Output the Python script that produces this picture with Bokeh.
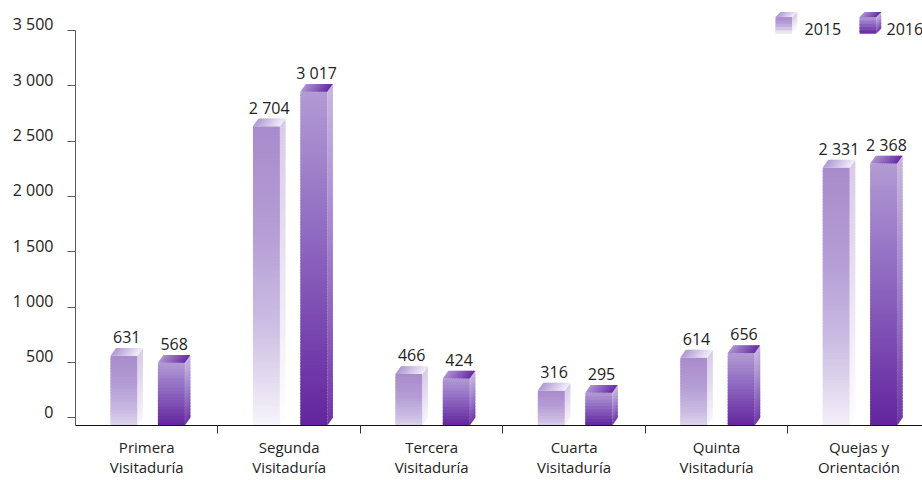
import numpy as np
from bokeh.plotting import figure
from bokeh.models import ColumnDataSource, FixedTicker, Range1d, LinearAxis
from bokeh.core.properties import value
from bokeh.embed import file_html
from bokeh.resources import INLINE

# ---------------- data ----------------
cat_line1 = ["Primera", "Segunda", "Tercera", "Cuarta", "Quinta", "Quejas y"]
cat_line2 = ["Visitaduría", "Visitaduría", "Visitaduría", "Visitaduría", "Visitaduría", "Orientación"]
series_names = ["2015", "2016"]
values_2015 = [631, 2704, 466, 316, 614, 2331]
values_2016 = [568, 3017, 424, 295, 656, 2368]
y_ticks = [0, 500, 1000, 1500, 2000, 2500, 3000, 3500]
y_tick_labels = ["0", "500", "1 000", "1 500", "2 000", "2 500", "3 000", "3 500"]

# ---------------- layout ----------------
W, H = 922, 480
BL, BB = 75, 55
FW, FH = W - BL, H - BB
X0, X1 = 0.0, FW / 142.45
Y0, Y1 = -70.0, 3771.0
UX = (X1 - X0) / FW          # data units per px
UY = (Y1 - Y0) / FH
BAR_W = 0.1895
BAR_OFF = [0.2457, 0.5785]
FONT = "Open Sans"
TXT = "#222222"


def px_to_x(px):   # page px -> data
    return X0 + (px - BL) * UX


def px_to_y(py):
    return Y0 + (FH - py) * UY


def hexc(c):
    return "#%02x%02x%02x" % tuple(int(round(v)) for v in c)


def interp(stops, t):
    t = min(max(t, 0.0), 1.0)
    for (t0, c0), (t1, c1) in zip(stops[:-1], stops[1:]):
        if t <= t1:
            f = 0 if t1 == t0 else (t - t0) / (t1 - t0)
            return [a + (b - a) * f for a, b in zip(c0, c1)]
    return list(stops[-1][1])


def mix_white(c, f):
    return [a + (255 - a) * f for a in c]


STYLE = {
    "2015": dict(
        front=[(0, (168, 139, 203)), (0.35, (181, 157, 213)), (0.65, (203, 188, 227)),
               (0.85, (228, 220, 240)), (1.0, (248, 245, 252))],
        side_mix=0.55, side_mix_bottom=0.8,
        top=[(0, (176, 152, 211)), (1.0, (242, 238, 249))],
        short_fade=True),
    "2016": dict(
        front=[(0, (178, 155, 212)), (0.45, (141, 103, 192)), (1.0, (99, 37, 158))],
        side_mix=0.28, side_mix_bottom=0.08,
        top=[(0, (172, 146, 210)), (1.0, (104, 44, 163))],
        short_fade=False),
}

front = dict(left=[], right=[], top=[], bottom=[], color=[])
polys = dict(xs=[], ys=[], color=[])


def draw_box(l, r, b, t, dx, dy, st):
    h_px = (t - b) / UY
    n = max(5, int(h_px / 3.0))
    scale = 1.0
    if st["short_fade"]:
        scale = 0.75 + 0.25 * min(1.0, h_px / 300.0)
    edges = np.linspace(t, b, n + 1)
    ov = 1.6 * UY
    for k in range(n):
        yt, yb = edges[k], edges[k + 1]
        ybo = max(yb - ov, b) if k < n - 1 else yb
        tt = (k + 0.5) / n
        c = interp(st["front"], tt * scale)
        front["left"].append(l); front["right"].append(r)
        front["top"].append(yt); front["bottom"].append(ybo)
        front["color"].append(hexc(c))
        sm = st["side_mix"] + (st["side_mix_bottom"] - st["side_mix"]) * tt * scale
        polys["xs"].append([r, r + dx, r + dx, r])
        polys["ys"].append([ybo, ybo + dy, yt + dy, yt])
        polys["color"].append(hexc(mix_white(c, sm)))
    m = 12
    xe = np.linspace(l, r, m + 1)
    ox = 1.2 * UX
    for k in range(m):
        xa, xb = xe[k], min(xe[k + 1] + ox, r) if k < m - 1 else xe[k + 1]
        c = interp(st["top"], (k + 0.5) / m)
        polys["xs"].append([xa, xb, xb + dx, xa + dx])
        polys["ys"].append([t, t, t + dy, t + dy])
        polys["color"].append(hexc(c))


BAR_DX = 5.5 * UX
BAR_DY = -Y0
lab = dict(x=[], y=[], text=[])
for s_idx, (name, vals) in enumerate(zip(series_names, [values_2015, values_2016])):
    for i, v in enumerate(vals):
        l = i + BAR_OFF[s_idx]
        r = l + BAR_W
        draw_box(l, r, Y0, v + Y0, BAR_DX, BAR_DY, STYLE[name])
        lab["x"].append((l + r) / 2 + BAR_DX / 2)
        lab["y"].append(v)
        lab["text"].append(f"{v:,}".replace(",", " "))

# legend cubes (pixel geometry converted to data)
leg_cube_left_px = [775, 859]
leg_text_px = [804, 886]
CUBE = 16.7
CUBE_D = 5.0
leg_txt = dict(x=[], y=[], text=[])
for k, name in enumerate(series_names):
    l = px_to_x(leg_cube_left_px[k])
    r = px_to_x(leg_cube_left_px[k] + CUBE)
    b = px_to_y(33.3)
    t = px_to_y(33.3 - CUBE)
    st = dict(STYLE[name]); st["short_fade"] = False
    draw_box(l, r, b, t, CUBE_D * UX, CUBE_D * UY, st)
    leg_txt["x"].append(px_to_x(leg_text_px[k]))
    leg_txt["y"].append(px_to_y(28.5))
    leg_txt["text"].append(name)

# ---------------- figure ----------------
p = figure(width=W, height=H, output_backend="svg", toolbar_location=None,
           x_range=Range1d(X0, X1), y_range=Range1d(Y0, Y1),
           min_border_left=BL, min_border_right=0, min_border_top=0,
           min_border_bottom=BB, background_fill_color="white",
           border_fill_color="white", outline_line_color=None)
p.xgrid.visible = False
p.ygrid.visible = False

p.quad(left="left", right="right", top="top", bottom="bottom",
       fill_color="color", line_color=None,
       source=ColumnDataSource(front))
p.patches(xs="xs", ys="ys", fill_color="color", line_color=None,
          source=ColumnDataSource(polys))

p.text(x="x", y="y", text="text", source=ColumnDataSource(lab),
       text_align="center", text_baseline="alphabetic", y_offset=-11,
       text_font=value(FONT), text_font_size="16px", text_color=TXT)
p.text(x="x", y="y", text="text", source=ColumnDataSource(leg_txt),
       text_align="left", text_baseline="alphabetic",
       text_font=value(FONT), text_font_size="16px", text_color=TXT)

# y axis: line + ticks
ya = p.yaxis[0]
ya.ticker = FixedTicker(ticks=y_ticks)
ya.bounds = (Y0, y_ticks[-1])
ya.major_label_overrides = {t: "" for t in y_ticks}
ya.major_label_standoff = 0
ya.major_tick_out = 8
ya.major_tick_in = 0
ya.minor_tick_out = 0
ya.minor_tick_in = 0
ya.axis_line_color = "#5a5a5a"
ya.major_tick_line_color = "#5a5a5a"

# y tick labels on a shifted range so that their baseline sits on the tick
SHIFT = 6.0 * UY
p.extra_y_ranges = {"lab": Range1d(Y0 - SHIFT, Y1 - SHIFT)}
yl = LinearAxis(y_range_name="lab", ticker=FixedTicker(ticks=y_ticks),
                major_label_overrides=dict(zip(y_ticks, y_tick_labels)),
                axis_line_color=None, major_tick_line_color=None,
                minor_tick_line_color=None, major_tick_out=0, major_tick_in=0,
                minor_tick_out=0, minor_tick_in=0, major_label_standoff=14,
                major_label_text_font=FONT, major_label_text_font_size="16px",
                major_label_text_color=TXT, major_label_text_font_style="normal")
p.add_layout(yl, "left")

# x axis
xa = p.xaxis[0]
centers = [i + 0.5 for i in range(len(cat_line1))]
xa.ticker = FixedTicker(ticks=centers, minor_ticks=[float(i) for i in range(1, len(cat_line1))])
xa.major_label_overrides = {c: f"{a}\n{b}" for c, a, b in zip(centers, cat_line1, cat_line2)}
xa.major_tick_out = 0
xa.major_tick_in = 0
xa.minor_tick_out = 8
xa.minor_tick_in = 0
xa.major_label_standoff = 3
xa.major_label_text_font = FONT
xa.major_label_text_font_size = "15px"
xa.major_label_text_color = TXT
xa.major_label_text_line_height = 1.0
xa.axis_line_color = "#111111"
xa.minor_tick_line_color = "#333333"

open("out.html", "w").write(file_html(p, INLINE))
